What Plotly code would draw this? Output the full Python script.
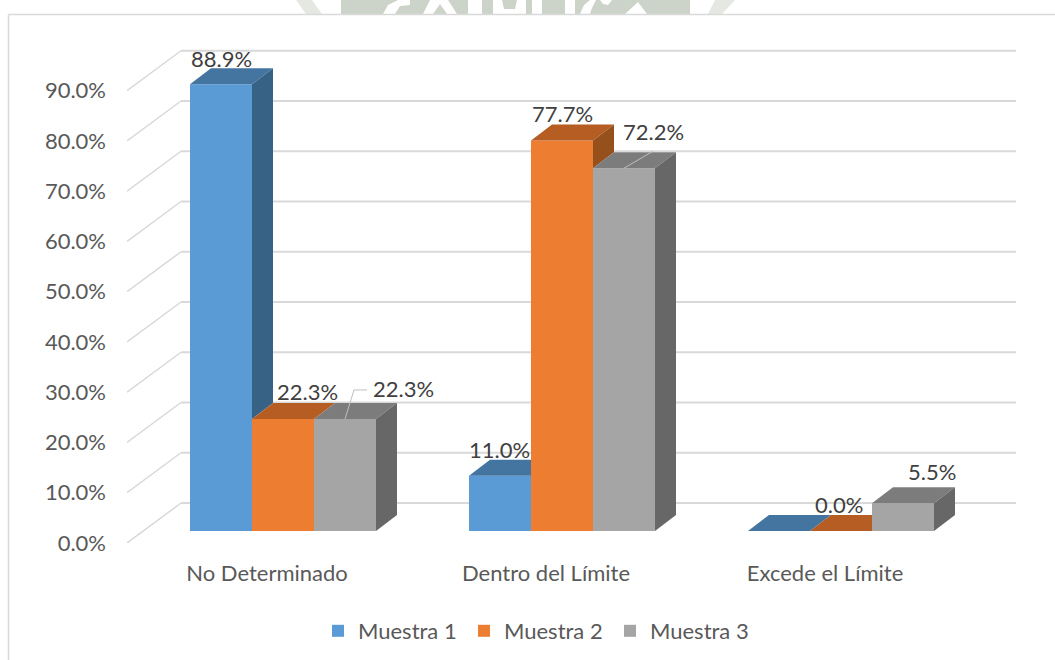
import plotly.graph_objects as go

categories = ["No Determinado", "Dentro del Límite", "Excede el Límite"]
muestra_1 = [88.9, 11.0, 0.0]
muestra_2 = [22.3, 77.7, 0.0]
muestra_3 = [22.3, 72.2, 5.5]
series_names = ["Muestra 1", "Muestra 2", "Muestra 3"]
y_ticks = [0, 10, 20, 30, 40, 50, 60, 70, 80, 90]

front_colors = ["#5B9BD5", "#ED7D31", "#A5A5A5"]
top_colors = ["#4474A0", "#B55D22", "#7C7C7C"]
side_colors = ["#376285", "#95501B", "#676767"]

W, H = 1055, 660
L, R, T, B = 127, 1016, 40, 543
PX_X = 279.0          # pixels per category
PX_Y = 5.025          # pixels per percent
X0 = (L - 283) / PX_X
X1 = (R - 283) / PX_X
Y1 = (B - T) / PX_Y
BAR_W = 62 / PX_X
BAR_DX = 21 / PX_X
BAR_DY = 16 / PX_Y
BASE = 12 / PX_Y
WALL_DX = 54 / PX_X
WALL_DY = 40 / PX_Y
FONT = "Lato, Carlito, Calibri, sans-serif"


def px(x):
    return (x - L) / (R - L)


def py(y):
    return (B - y) / (B - T)


series = [muestra_1, muestra_2, muestra_3]
fig = go.Figure()

for j, vals in enumerate(series):
    fig.add_trace(go.Bar(x=list(range(3)), y=vals, base=BASE, name=series_names[j],
                         marker=dict(color=front_colors[j], line=dict(width=0))))


def poly(xs, ys, color):
    fig.add_trace(go.Scatter(x=xs, y=ys, mode="lines", fill="toself", fillcolor=color,
                             line=dict(width=0, color=color), showlegend=False, hoverinfo="skip"))


for i in range(3):
    for j, vals in enumerate(series):
        v = vals[i] + BASE
        c = i + (j - 1) * BAR_W
        l, r = c - BAR_W / 2, c + BAR_W / 2
        nxt = series[j + 1][i] + BASE if j < 2 else BASE
        # top face: cut where the next bar's front hides it
        if nxt > v:
            poly([l, r, r, l + BAR_DX, l], [v, v, v + BAR_DY, v + BAR_DY, v], top_colors[j])
        else:
            poly([l, r, r + BAR_DX, l + BAR_DX, l], [v, v, v + BAR_DY, v + BAR_DY, v], top_colors[j])
        # side face: only the part standing above the next bar
        if nxt < v:
            poly([r, r + BAR_DX, r + BAR_DX, r, r],
                 [v, v + BAR_DY, nxt + BAR_DY, nxt, v], side_colors[j])

# leader lines of two data labels
c = 0 + BAR_W
t = muestra_3[0] + BASE
fig.add_trace(go.Scatter(x=[c, c + 9 / PX_X, c + 22 / PX_X], y=[t, t + 29 / PX_Y, t + 29 / PX_Y],
                         mode="lines", line=dict(color="#BFBFBF", width=1), showlegend=False, hoverinfo="skip"))
c = 1 + BAR_W
t = muestra_3[1] + BASE
fig.add_trace(go.Scatter(x=[c, c + 29 / PX_X], y=[t, t + 17 / PX_Y],
                         mode="lines", line=dict(color="#BFBFBF", width=1), showlegend=False, hoverinfo="skip"))

shapes = []


def page_poly(points, color):
    d = "M" + " L".join(f"{px(a)},{py(b)}" for a, b in points) + " Z"
    shapes.append(dict(type="path", xref="paper", yref="paper", layer="below", line_width=0,
                       fillcolor=color, path=d))


# watermark remnants above the frame
BAND = "#CCD3C8"
page_poly([(341, 0), (690, 0), (690, 14), (341, 14)], BAND)
page_poly([(296, 0), (312, 0), (322, 14), (306, 14)], "#E4E7E2")
page_poly([(715, 0), (735, 0), (722, 14), (708, 14)], "#E4E7E2")
page_poly([(383, 14), (388, 5), (398, 0), (410, 0), (410, 5), (400, 6), (395, 14)], "#FFFFFF")
page_poly([(423, 14), (430, 0), (448, 0), (457, 14)], "#FFFFFF")
page_poly([(433, 14), (440, 4), (447, 14)], BAND)
page_poly([(468, 0), (482, 0), (482, 14), (468, 14)], "#FFFFFF")
page_poly([(493, 0), (526, 0), (526, 14), (493, 14)], "#FFFFFF")
page_poly([(502, 0), (517, 0), (515, 9), (504, 9)], BAND)
page_poly([(532, 0), (542, 0), (542, 14), (532, 14)], "#FFFFFF")
page_poly([(565, 0), (575, 0), (575, 14), (565, 14)], "#FFFFFF")
page_poly([(580, 14), (584, 5), (590, 0), (596, 0), (592, 8), (590, 14)], "#FFFFFF")
page_poly([(600, 0), (612, 0), (608, 5), (603, 4)], "#FFFFFF")
page_poly([(625, 14), (638, 2), (647, 14)], "#FFFFFF")
# frame
shapes.append(dict(type="line", xref="paper", yref="paper", x0=px(8.5), x1=px(8.5), y0=py(660), y1=py(14.5),
                   line=dict(color="#D9D9D9", width=1.5), layer="below"))
shapes.append(dict(type="line", xref="paper", yref="paper", x0=px(8.5), x1=px(1055), y0=py(14.5), y1=py(14.5),
                   line=dict(color="#D9D9D9", width=1.5), layer="below"))
# wall gridlines
for tk in y_ticks:
    shapes.append(dict(type="line", xref="x", yref="y", x0=X0, x1=X0 + WALL_DX, y0=tk, y1=tk + WALL_DY,
                       line=dict(color="#D9D9D9", width=1.5), layer="below"))
    shapes.append(dict(type="line", xref="x", yref="y", x0=X0 + WALL_DX, x1=X1, y0=tk + WALL_DY, y1=tk + WALL_DY,
                       line=dict(color="#D9D9D9", width=2), layer="below"))

label_shift = {(0, 0): (0, 26), (0, 1): (24, 27), (0, 2): (58, 30),
               (1, 0): (-1, 26), (1, 1): (0, 27), (1, 2): (29, 37),
               (2, 1): (-2, 27), (2, 2): (29, 32)}
annotations = []
for (i, j), (dx, dy) in label_shift.items():
    annotations.append(dict(x=i + (j - 1) * BAR_W, y=series[j][i] + BASE, xref="x", yref="y",
                            text=f"{series[j][i]:.1f}%", showarrow=False, xshift=dx, yshift=dy,
                            font=dict(family=FONT, size=22, color="#404040")))

fig.update_layout(
    width=W, height=H, autosize=False,
    margin=dict(l=L, r=W - R, t=T, b=H - B, pad=0),
    paper_bgcolor="white", plot_bgcolor="rgba(0,0,0,0)",
    barmode="group", bargap=1 / 3, bargroupgap=0,
    showlegend=True,
    legend=dict(orientation="h", xref="container", yref="container", x=318 / W, y=1 - 631 / H,
                xanchor="left", yanchor="middle",
                entrywidth=101, entrywidthmode="pixels", itemclick=False, itemdoubleclick=False,
                font=dict(family=FONT, size=22, color="#595959"), bgcolor="rgba(0,0,0,0)"),
    xaxis=dict(range=[X0, X1], tickmode="array", tickvals=[i - 16 / PX_X for i in range(3)],
               ticktext=categories, showgrid=False, zeroline=False, showline=False, ticks="",
               automargin=False,
               ticklabelstandoff=15, tickfont=dict(family=FONT, size=22, color="#595959")),
    yaxis=dict(range=[0, Y1], tickmode="array", tickvals=y_ticks,
               ticktext=[f"{v:.1f}%" for v in y_ticks], showgrid=False, zeroline=False, showline=False,
               automargin=False,
               ticks="", ticklabelstandoff=20, tickfont=dict(family=FONT, size=22, color="#595959")),
    shapes=shapes, annotations=annotations,
)

fig.write_html("out.html", config={"displayModeBar": False},
               post_script="document.body.style.margin='0';")
